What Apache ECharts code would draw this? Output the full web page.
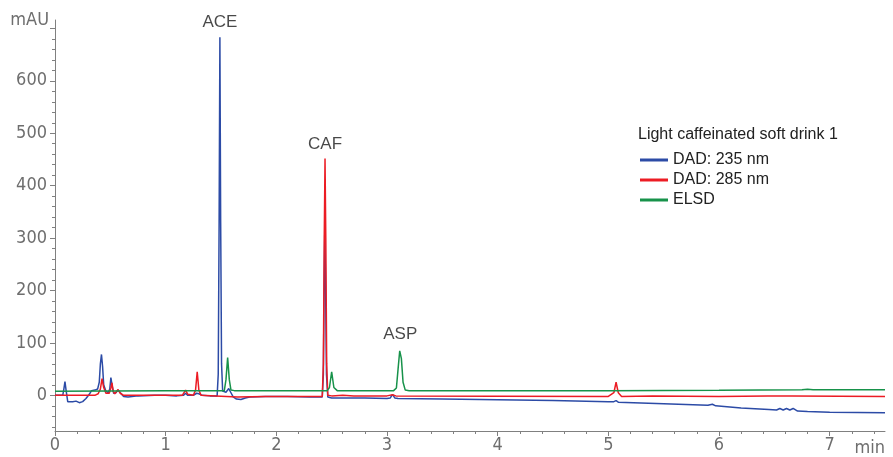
<!DOCTYPE html>
<html>
<head>
<meta charset="utf-8">
<script src="https://cdn.jsdelivr.net/npm/echarts@6/dist/echarts.min.js"></script>
<style>
  html, body { margin: 0; padding: 0; background: #fff; }
  #chart { width: 893px; height: 457px; }
</style>
</head>
<body>
<div id="chart"></div>
<script>
// ---- data (time in min, signal in mAU) ----
const seriesNames = ['DAD: 235 nm', 'DAD: 285 nm', 'ELSD'];
const legendTitle = 'Light caffeinated soft drink 1';

const dad235 = [
  [0, 0], [0.07, 0], [0.08, 12], [0.09, 26], [0.10, 10], [0.115, -12], [0.13, -15], [0.16, -12],
  [0.19, -11], [0.22, -14], [0.25, -12], [0.28, -6], [0.31, 2], [0.33, 9], [0.36, 10], [0.385, 12],
  [0.40, 25], [0.41, 60], [0.42, 78], [0.43, 55], [0.44, 20], [0.46, 8], [0.48, 5], [0.495, 12],
  [0.505, 34], [0.515, 20], [0.53, 4], [0.55, 5], [0.57, 10], [0.59, 5], [0.62, -2], [0.66, -3],
  [0.75, -1], [0.9, 0], [1.0, 0], [1.1, -1], [1.16, 0], [1.18, 4], [1.20, 0], [1.25, 0], [1.28, 4],
  [1.30, 3], [1.33, 0], [1.40, -1], [1.465, -1], [1.475, 40], [1.483, 330], [1.49, 683], [1.497, 330],
  [1.505, 60], [1.515, 8], [1.545, 6], [1.57, 13], [1.59, 5], [1.61, -3], [1.64, -7], [1.68, -8],
  [1.72, -5], [1.76, -3], [1.9, -2], [2.1, -2], [2.3, -3], [2.415, -3], [2.425, 40], [2.432, 210],
  [2.438, 321], [2.445, 210], [2.453, 40], [2.465, -3], [2.5, -5], [2.8, -5], [3.0, -6], [3.03, -5],
  [3.05, 2], [3.07, -5], [3.1, -6], [3.5, -7], [4.0, -8.5], [4.5, -10], [5.0, -12], [5.05, -12],
  [5.07, -10], [5.09, -13], [5.5, -16], [5.9, -19], [5.94, -17], [5.97, -20], [6.2, -24], [6.45, -27],
  [6.52, -28], [6.55, -25], [6.58, -28], [6.61, -25], [6.64, -28], [6.67, -25], [6.71, -30],
  [6.8, -31], [7.0, -32], [7.5, -33]
];

const dad285 = [
  [0, 0], [0.36, 0], [0.39, 3], [0.41, 12], [0.425, 32], [0.44, 15], [0.46, 4], [0.49, 4],
  [0.505, 14], [0.515, 24], [0.525, 8], [0.54, 3], [0.57, 11], [0.59, 4], [0.62, 0], [0.8, 0],
  [1.0, 0], [1.15, 0], [1.18, 10], [1.20, 2], [1.25, 0], [1.27, 10], [1.285, 45], [1.30, 10],
  [1.32, 0], [1.45, -1], [1.55, -2], [1.65, -3], [1.9, -2], [2.2, -2], [2.415, -2], [2.425, 60],
  [2.433, 300], [2.44, 452], [2.447, 300], [2.455, 60], [2.465, 0], [2.5, -1], [2.6, 0], [2.7, -1],
  [3.0, -1], [3.05, 1], [3.08, -1], [4.0, -1.5], [5.0, -2], [5.05, 5], [5.07, 25], [5.09, 5],
  [5.12, -2], [5.4, -1], [6.0, -2], [6.44, -1], [6.66, -1], [7.5, -2]
];

const elsd = [
  [0, 8], [1.0, 9], [1.53, 9], [1.545, 30], [1.56, 72], [1.575, 30], [1.59, 10], [1.62, 9],
  [2.46, 9], [2.48, 15], [2.50, 45], [2.52, 15], [2.55, 9], [3.06, 9], [3.085, 14], [3.10, 50],
  [3.115, 85], [3.12, 88], [3.13, 70], [3.145, 25], [3.165, 10], [3.2, 9], [4.0, 9], [5.0, 9],
  [6.0, 9.5], [6.75, 10.5], [6.8, 11.5], [6.85, 10.5], [7.5, 10.5]
];

const peakNames = ['ACE', 'CAF', 'ASP'];
const peakTimes = [1.49, 2.44, 3.12];
const peakHeights = [683, 452, 88];

const xTicks = [0, 1, 2, 3, 4, 5, 6, 7];
const xMinorTicks = [0.2, 0.4, 0.6, 0.8, 1.2, 1.4, 1.6, 1.8, 2.2, 2.4, 2.6, 2.8, 3.2, 3.4, 3.6, 3.8,
  4.2, 4.4, 4.6, 4.8, 5.2, 5.4, 5.6, 5.8, 6.2, 6.4, 6.6, 6.8, 7.2, 7.4];
const yTicks = [0, 100, 200, 300, 400, 500, 600, 700];
const yLabels = [0, 100, 200, 300, 400, 500, 600];
const yMinorTicks = [-60, -40, -20, 20, 40, 60, 80, 120, 140, 160, 180, 220, 240, 260, 280, 320, 340,
  360, 380, 420, 440, 460, 480, 520, 540, 560, 580, 620, 640, 660, 680];

const xRange = [0, 7.5];
const yRange = [-68, 716];

// ---- styles ----
const colors = ['#2c4ba6', '#ec1c24', '#17924a'];
const axisFont = "'Liberation Sans Narrow', 'DejaVu Sans Condensed', sans-serif";
const textFont = "'Liberation Sans', Arial, sans-serif";
const axisGray = '#808080';

const chart = echarts.init(document.getElementById('chart'), null, { renderer: 'canvas' });

function baseX(extra) {
  return Object.assign({
    type: 'value', min: xRange[0], max: xRange[1], position: 'bottom',
    axisLine: { show: false, onZero: false },
    splitLine: { show: false },
    axisLabel: { show: false },
    axisTick: { show: false }
  }, extra);
}
function baseY(extra) {
  return Object.assign({
    type: 'value', min: yRange[0], max: yRange[1], position: 'left',
    axisLine: { show: false, onZero: false },
    splitLine: { show: false },
    axisLabel: { show: false },
    axisTick: { show: false }
  }, extra);
}

const option = {
  animation: false,
  backgroundColor: '#fff',
  grid: { left: 55, right: 8, top: 20, bottom: 24, containLabel: false },
  title: {
    text: legendTitle, left: 633, top: 122,
    textStyle: { fontFamily: textFont, fontSize: 16, fontWeight: 'normal', color: '#222' }
  },
  legend: {
    data: seriesNames, orient: 'vertical', left: 635, top: 147,
    icon: 'rect', itemWidth: 28, itemHeight: 3, itemGap: 4,
    textStyle: { fontFamily: textFont, fontSize: 16, color: '#222', lineHeight: 16 }
  },
  xAxis: [
    baseX({
      axisLine: { show: true, onZero: false, lineStyle: { color: axisGray, width: 1 } },
      axisTick: { show: true, length: 5, lineStyle: { color: axisGray }, customValues: xTicks },
      axisLabel: { show: true, margin: 5, color: '#6e6e6e', fontFamily: axisFont, fontSize: 18, customValues: xTicks },
      name: 'min', nameLocation: 'end', nameGap: 0,
      nameTextStyle: { fontFamily: axisFont, fontSize: 18, color: '#6e6e6e', align: 'right', verticalAlign: 'top', padding: [8, 0, 0, 0] }
    }),
    baseX({
      axisTick: { show: true, length: 3, lineStyle: { color: axisGray }, customValues: xMinorTicks }
    })
  ],
  yAxis: [
    baseY({
      axisLine: { show: true, onZero: false, lineStyle: { color: axisGray, width: 1 } },
      axisTick: { show: true, length: 5, lineStyle: { color: axisGray }, customValues: yTicks },
      axisLabel: { show: true, margin: 8, color: '#6e6e6e', fontFamily: axisFont, fontSize: 18, customValues: yLabels },
      name: 'mAU', nameLocation: 'end', nameGap: 0,
      nameTextStyle: { fontFamily: axisFont, fontSize: 18, color: '#6e6e6e', align: 'right', verticalAlign: 'middle', padding: [0, 6, 0, 0] }
    }),
    baseY({
      axisTick: { show: true, length: 3, lineStyle: { color: axisGray }, customValues: yMinorTicks }
    })
  ],
  series: [
    { name: seriesNames[0], type: 'line', data: dad235, color: colors[0], showSymbol: false, symbol: 'none',
      lineStyle: { width: 1.5, color: colors[0] }, z: 2 },
    { name: seriesNames[1], type: 'line', data: dad285, color: colors[1], showSymbol: false, symbol: 'none',
      lineStyle: { width: 1.5, color: colors[1] }, z: 3 },
    { name: seriesNames[2], type: 'line', data: elsd, color: colors[2], showSymbol: false, symbol: 'none',
      lineStyle: { width: 1.5, color: colors[2] }, z: 4 },
    { name: 'peaks', type: 'scatter', symbolSize: 0, silent: true, z: 5,
      data: peakNames.map((n, i) => ({ name: n, value: [peakTimes[i], peakHeights[i]] })),
      label: { show: true, position: 'top', distance: 6, formatter: p => p.name,
        fontFamily: textFont, fontSize: 17, color: '#1a1a1a' } }
  ]
};
chart.setOption(option);
</script>
</body>
</html>
